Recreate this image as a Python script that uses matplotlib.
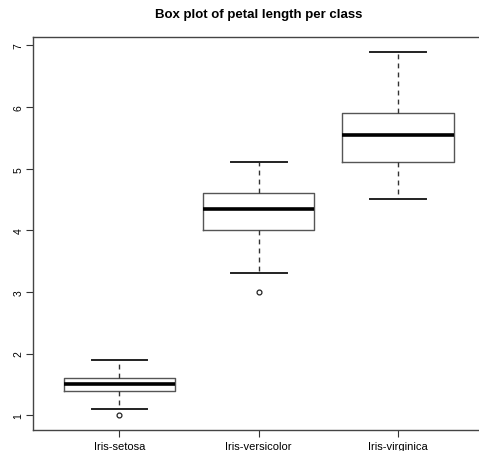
import matplotlib
matplotlib.use("Agg")
import matplotlib.pyplot as plt

classes = ["Iris-setosa", "Iris-versicolor", "Iris-virginica"]
whislo = [1.1, 3.3, 4.5]
q1 = [1.4, 4.0, 5.1]
med = [1.5, 4.35, 5.55]
q3 = [1.6, 4.6, 5.9]
whishi = [1.9, 5.1, 6.9]
outliers = [[1.0], [3.0], []]
yticks = [1, 2, 3, 4, 5, 6, 7]

plt.rcParams['font.family'] = ['Liberation Sans', 'DejaVu Sans']

W, H = 479, 452
fig = plt.figure(figsize=(W / 100, H / 100), dpi=100)
left, right, top, bottom = 33, 484.5, 38, 430.7
ax = fig.add_axes([left / W, (H - bottom) / H, (right - left) / W, (bottom - top) / H])

stats = []
for i, c in enumerate(classes):
    stats.append(dict(label=c, whislo=whislo[i], q1=q1[i], med=med[i],
                      q3=q3[i], whishi=whishi[i], fliers=outliers[i]))

ax.bxp(stats, positions=[1, 2, 3], widths=0.8, showfliers=True,
       boxprops=dict(color='#555555', linewidth=1.0),
       medianprops=dict(color='black', linewidth=2.6, solid_capstyle='butt'),
       whiskerprops=dict(color='#333333', linewidth=1.0, linestyle=(0, (3.5, 3))),
       capprops=dict(color='#222222', linewidth=1.4),
       capwidths=0.4,
       flierprops=dict(marker='o', markersize=3.5, markerfacecolor='none',
                       markeredgecolor='#222222', markeredgewidth=0.9))

ax.set_xlim(0.38, 3.62)
ax.set_ylim(0.764, 7.136)
ax.set_yticks(yticks)
ax.set_yticklabels([str(v) for v in yticks], rotation=90, va='center', fontsize=7.5)
ax.set_xticks([1, 2, 3])
ax.set_xticklabels(classes, fontsize=8)
ax.tick_params(axis='both', direction='out', length=5, width=0.8, color='#333333')
ax.tick_params(axis='y', pad=2)
ax.tick_params(axis='x', pad=3)
for s in ax.spines.values():
    s.set_color('#444444')
    s.set_linewidth(1.0)
ax.spines['right'].set_visible(False)

fig.text((left + right) / 2 / W, 1 - 15 / H, "Box plot of petal length per class",
         ha='center', va='center', fontsize=9.5, fontweight='bold')

fig.savefig("out.png", dpi=100)
